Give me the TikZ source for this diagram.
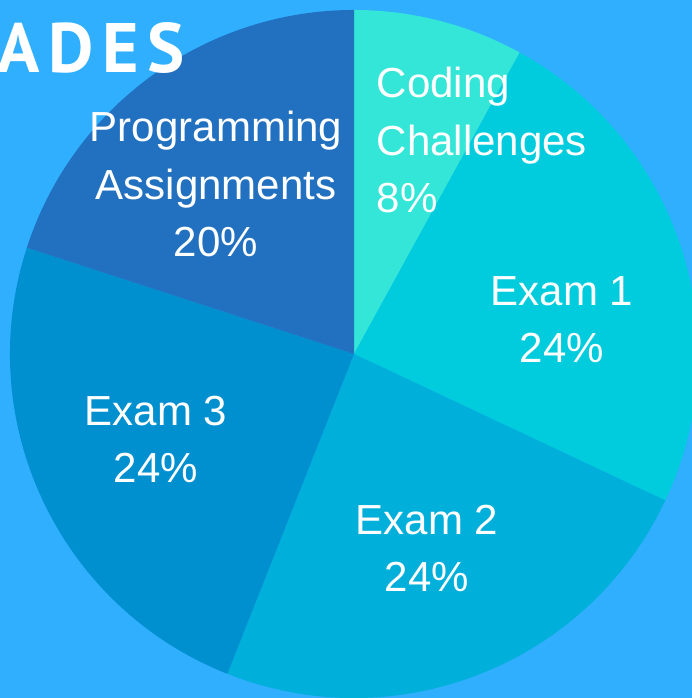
\documentclass[tikz,border=0pt]{standalone}
\usepackage{fontspec}
\setmainfont{Liberation Sans}
\newfontfamily\titlefont[LetterSpace=12]{PT Sans}
\usetikzlibrary{positioning, calc}

\definecolor{bgblue}{HTML}{30AFFF}
\definecolor{codingcol}{HTML}{33E6D8}
\definecolor{examonecol}{HTML}{00CCDD}
\definecolor{examtwocol}{HTML}{00AFDA}
\definecolor{examthreecol}{HTML}{0090D0}
\definecolor{progcol}{HTML}{2270C0}

\begin{document}
\begin{tikzpicture}[
		x=0.01cm, y=0.01cm,
		slicetext/.style={
			text=white,
			font=\fontsize{11.95}{16.4}\selectfont,
			align=center,
			inner sep=0pt,
			anchor=base
		}
	]
	\fill[bgblue] (0,0) rectangle (692,698);
	\useasboundingbox (0,0) rectangle (692,698);
	\coordinate (c) at (354,344);
	
	% slices, clockwise from the top
	\fill[codingcol] (c) -- ++(90:344) arc[start angle=90, end angle=61.2, radius=344] -- cycle;
	\fill[examonecol] (c) -- ++(61.2:344) arc[start angle=61.2, end angle=-25.2, radius=344] -- cycle;
	\fill[examtwocol] (c) -- ++(-25.2:344) arc[start angle=-25.2, end angle=-111.6, radius=344] -- cycle;
	\fill[examthreecol] (c) -- ++(-111.6:344) arc[start angle=-111.6, end angle=-198, radius=344] -- cycle;
	\fill[progcol] (c) -- ++(162:344) arc[start angle=162, end angle=90, radius=344] -- cycle;
	
	\node (title) [anchor=base west, inner sep=0pt, text=white, font=\titlefont\fontsize{19.9}{24}\bfseries] at (-3,625) {ADES};
	
	% base anchor sits on the last line
	\node (prog) [slicetext] at (216,441) {Programming\\Assignments\\20\%};
	\node (coding) [slicetext, align=left, anchor=base west] at (376,485) {Coding\\Challenges\\8\%};
	\node (examone) [slicetext] at (562,335) {Exam 1\\24\%};
	\node (examtwo) [slicetext] at (427,106) {Exam 2\\24\%};
	\node (examthree) [slicetext] at (156,215) {Exam 3\\24\%};
\end{tikzpicture}
\end{document}
